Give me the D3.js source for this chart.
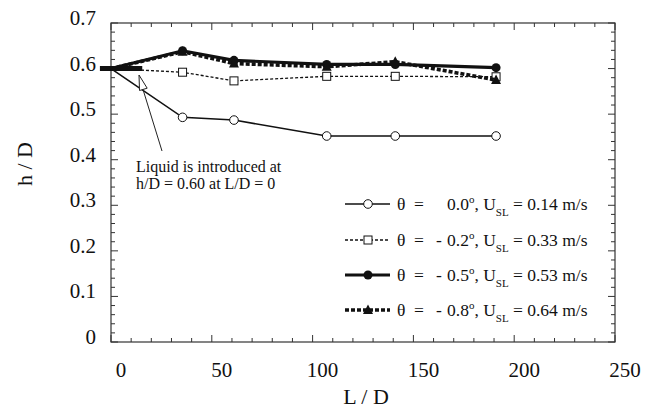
<!DOCTYPE html>
<html><head><meta charset="utf-8">
<script src="https://cdn.jsdelivr.net/npm/d3@7"></script>
</head>
<body style="margin:0"><svg id="c" width="647" height="414" font-family="Liberation Serif" style="font-family:'Liberation Serif',Times,serif"></svg>
<script>
const LD = [0, 35.5, 61, 107, 141, 191];
const s00 = [0.600, 0.493, 0.487, 0.452, 0.452, 0.452];
const s02 = [0.600, 0.592, 0.573, 0.583, 0.583, 0.582];
const s05 = [0.600, 0.639, 0.618, 0.609, 0.609, 0.602];
const s08 = [0.600, 0.637, 0.611, 0.604, 0.615, 0.575];
const xTicks = [0, 50, 100, 150, 200, 250];
const yTicks = [0, 0.1, 0.2, 0.3, 0.4, 0.5, 0.6, 0.7];
const legendAngles = ["  0.0", "- 0.2", "- 0.5", "- 0.8"];
const legendUsl = ["0.14", "0.33", "0.53", "0.64"];

const svg = d3.select("#c");
const x = d3.scaleLinear().domain([0, 250]).range([111, 615]);
const y = d3.scaleLinear().domain([0, 0.7]).range([342, 23]);

function addText(parent, size) {
  return parent.append("text").attr("font-family", "Liberation Serif")
    .style("font-family", "\"Times New Roman\"").attr("font-size", size).attr("fill", "#111");
}

// frame
svg.append("rect").attr("x", 111).attr("y", 23).attr("width", 504).attr("height", 319)
  .attr("fill", "none").attr("stroke", "#333").attr("stroke-width", 1.2);

// ticks (inward on all sides)
const g = svg.append("g").attr("stroke", "#333").attr("stroke-width", 1);
d3.range(0, 251, 10).forEach(v => {
  const len = v % 50 === 0 ? 7 : 4;
  g.append("line").attr("x1", x(v)).attr("x2", x(v)).attr("y1", 342).attr("y2", 342 - len);
  g.append("line").attr("x1", x(v)).attr("x2", x(v)).attr("y1", 23).attr("y2", 23 + len);
});
d3.range(0, 36).forEach(i => {
  const v = i * 0.02;
  const len = i % 5 === 0 ? 7 : 4;
  g.append("line").attr("x1", 111).attr("x2", 111 + len).attr("y1", y(v)).attr("y2", y(v));
  g.append("line").attr("x1", 615).attr("x2", 615 - len).attr("y1", y(v)).attr("y2", y(v));
});

// tick labels
xTicks.forEach(d => addText(svg, 21).attr("x", x(d) + 10).attr("y", 377).attr("text-anchor", "middle").text(d));
yTicks.forEach(d => addText(svg, 21).attr("x", 96).attr("y", y(d) + 2).attr("text-anchor", "end")
  .text(d === 0 ? "0" : d.toFixed(1)));

// axis titles
addText(svg, 22).attr("x", 366).attr("y", 404).attr("text-anchor", "middle").text("L / D");
addText(svg, 22).attr("transform", "translate(32,164) rotate(-90)").attr("text-anchor", "middle").text("h / D");

// series
const line = d3.line().x(d => x(d[0])).y(d => y(d[1]));
const series = [
  {v: s00, w: 1.6, dash: null, m: "oc"},
  {v: s02, w: 1.3, dash: "3,2", m: "sq"},
  {v: s05, w: 3.2, dash: null, m: "fc"},
  {v: s08, w: 3.6, dash: "4,2", m: "tr"}
];
function marker(sel, m, cx, cy) {
  if (m === "oc") sel.append("circle").attr("cx", cx).attr("cy", cy).attr("r", 4.3).attr("fill", "#fff").attr("stroke", "#111").attr("stroke-width", 1);
  if (m === "fc") sel.append("circle").attr("cx", cx).attr("cy", cy).attr("r", 4.5).attr("fill", "#111");
  if (m === "sq") sel.append("rect").attr("x", cx - 4).attr("y", cy - 4).attr("width", 8).attr("height", 8).attr("fill", "#fff").attr("stroke", "#111").attr("stroke-width", 1);
  if (m === "tr") sel.append("path").attr("d", `M${cx},${cy-5.5}L${cx+5},${cy+4}L${cx-5},${cy+4}Z`).attr("fill", "#111");
}
series.forEach(s => {
  const pts = LD.map((d, i) => [d, s.v[i]]);
  svg.append("path").attr("d", line(pts)).attr("fill", "none").attr("stroke", "#111")
    .attr("stroke-width", s.w).attr("stroke-dasharray", s.dash);
  const mg = svg.append("g");
  pts.slice(1).forEach(p => marker(mg, s.m, x(p[0]), y(p[1])));
});

// thick bar at h/D = 0.60
svg.append("line").attr("x1", x(-5.5)).attr("x2", x(15.5)).attr("y1", y(0.6)).attr("y2", y(0.6))
  .attr("stroke", "#111").attr("stroke-width", 5);

// annotation arrow
const ax1 = 162, ay1 = 151, ax2 = 139, ay2 = 75;
svg.append("line").attr("x1", ax1).attr("y1", ay1).attr("x2", ax2 + 2).attr("y2", ay2 + 8)
  .attr("stroke", "#222").attr("stroke-width", 1);
(function(){
  const ang = Math.atan2(ay1 - ay2, ax1 - ax2);
  const L = 15, W = 4;
  const bx = ax2 + L * Math.cos(ang), by = ay2 + L * Math.sin(ang);
  const px = -Math.sin(ang) * W, py = Math.cos(ang) * W;
  svg.append("path").attr("d", `M${ax2},${ay2}L${bx+px},${by+py}L${bx-px},${by-py}Z`)
    .attr("fill", "#fff").attr("stroke", "#222").attr("stroke-width", 1);
})();
addText(svg, 16).attr("x", 136).attr("y", 172).text("Liquid is introduced at");
addText(svg, 16).attr("x", 136).attr("y", 189).text("h/D = 0.60 at L/D = 0");

// legend
const rowsY = [204, 240, 275, 310];
series.forEach((s, i) => {
  const yy = rowsY[i];
  svg.append("line").attr("x1", 345).attr("x2", 390).attr("y1", yy).attr("y2", yy)
    .attr("stroke", "#111").attr("stroke-width", s.w).attr("stroke-dasharray", s.dash);
  marker(svg, s.m, 368, yy);
  const t = addText(svg, 17.5).attr("y", yy + 6);
  t.append("tspan").attr("x", 397).text("θ");
  t.append("tspan").attr("x", 414).text("=");
  const a = legendAngles[i];
  if (a.startsWith("-")) t.append("tspan").attr("x", 436).text("-");
  t.append("tspan").attr("x", 447).text(a.replace("-", "").trim());
  t.append("tspan").attr("font-size", 11).attr("dy", -7).text("o");
  t.append("tspan").attr("dy", 7).text(", U");
  t.append("tspan").attr("font-size", 11).attr("dy", 6).text("SL");
  t.append("tspan").attr("dy", -6).text(" = " + legendUsl[i] + " m/s");
});
</script></body></html>
